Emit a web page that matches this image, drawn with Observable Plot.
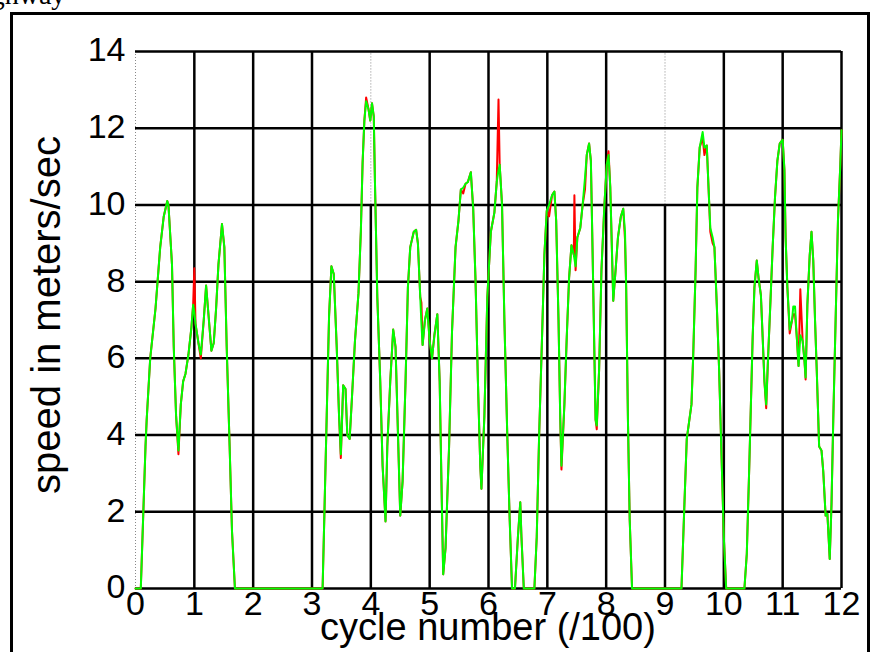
<!DOCTYPE html>
<html><head><meta charset="utf-8">
<script src="https://cdn.jsdelivr.net/npm/d3@7"></script>
<script src="https://cdn.jsdelivr.net/npm/@observablehq/plot@0.6"></script>
<style>body{margin:0;background:#fff;}</style>
</head><body><div id="chart"></div>
<script>
const cycle = [
  0, 0.09, 0.17, 0.19, 0.25, 0.34, 0.42, 0.48, 0.54, 0.56,
  0.62, 0.65, 0.69, 0.73, 0.77, 0.81, 0.85, 0.9, 0.95, 0.98,
  1.0, 1.02, 1.07, 1.11, 1.16, 1.2, 1.24, 1.29, 1.33, 1.37,
  1.41, 1.47, 1.51, 1.55, 1.6, 1.64, 1.69, 3.18, 3.21, 3.25,
  3.29, 3.33, 3.37, 3.42, 3.46, 3.49, 3.53, 3.57, 3.6, 3.64,
  3.68, 3.73, 3.79, 3.83, 3.86, 3.89, 3.92, 3.96, 3.99, 4.02,
  4.05, 4.07, 4.11, 4.16, 4.2, 4.25, 4.28, 4.33, 4.38, 4.42,
  4.46, 4.5, 4.54, 4.59, 4.63, 4.67, 4.73, 4.77, 4.8, 4.84,
  4.86, 4.88, 4.92, 4.96, 5.0, 5.04, 5.08, 5.13, 5.17, 5.2,
  5.23, 5.27, 5.33, 5.38, 5.44, 5.49, 5.53, 5.57, 5.61, 5.65,
  5.7, 5.74, 5.78, 5.82, 5.86, 5.88, 5.93, 5.98, 6.04, 6.1,
  6.14, 6.17, 6.19, 6.23, 6.27, 6.32, 6.36, 6.4, 6.45, 6.5,
  6.54, 6.56, 6.6, 6.78, 6.82, 6.86, 6.91, 6.95, 6.99, 7.03,
  7.08, 7.12, 7.15, 7.19, 7.22, 7.24, 7.29, 7.33, 7.37, 7.41,
  7.45, 7.46, 7.48, 7.51, 7.56, 7.6, 7.64, 7.67, 7.71, 7.74,
  7.77, 7.8, 7.82, 7.84, 7.88, 7.92, 7.97, 8.01, 8.04, 8.07,
  8.1, 8.12, 8.16, 8.2, 8.25, 8.29, 8.32, 8.34, 8.37, 8.4,
  8.44, 9.28, 9.33, 9.37, 9.41, 9.45, 9.48, 9.52, 9.55, 9.59,
  9.64, 9.67, 9.71, 9.74, 9.77, 9.81, 9.84, 9.88, 9.92, 9.96,
  10.0, 10.04, 10.35, 10.39, 10.43, 10.46, 10.49, 10.52, 10.56, 10.59,
  10.63, 10.66, 10.69, 10.72, 10.75, 10.79, 10.83, 10.87, 10.91, 10.95,
  11.0, 11.03, 11.05, 11.08, 11.12, 11.16, 11.18, 11.21, 11.24, 11.27,
  11.3, 11.34, 11.37, 11.39, 11.42, 11.46, 11.49, 11.52, 11.55, 11.58,
  11.62, 11.66, 11.69, 11.73, 11.76, 11.8, 11.83, 11.86, 11.9, 11.94,
  11.98, 12.0
];
const greenSpeed = [
  0, 0, 3.7, 4.4, 6.0, 7.3, 8.9, 9.7, 10.1, 10.0,
  8.45, 6.3, 4.5, 3.6, 4.8, 5.4, 5.6, 6.1, 6.8, 7.4,
  7.2, 6.9, 6.4, 6.1, 7.0, 7.9, 7.15, 6.2, 6.4, 7.3,
  8.45, 9.5, 8.9, 6.3, 3.7, 1.5, 0, 0, 1.9, 4.5,
  7.1, 8.4, 8.2, 6.3, 4.5, 3.5, 5.3, 5.2, 4.0, 3.9,
  5.0, 6.45, 7.7, 9.3, 11.1, 12.2, 12.7, 12.5, 12.2, 12.65,
  12.3, 10.6, 7.6, 5.4, 3.2, 1.75, 3.7, 5.4, 6.75, 6.3,
  4.1, 1.9, 2.8, 5.4, 7.85, 8.9, 9.3, 9.35, 9.0, 7.6,
  6.9, 6.35, 7.0, 7.3, 6.45, 6.0, 6.6, 7.15, 5.4, 2.8,
  0.37, 1.06, 3.7, 6.7, 8.9, 9.6, 10.4, 10.45, 10.55, 10.6,
  10.85, 9.9, 8.0, 5.4, 3.2, 2.6, 4.5, 7.6, 9.3, 9.8,
  10.6, 10.9, 11.05, 10.0, 7.0, 3.95, 1.8, 0, 0, 1.35,
  2.25, 1.35, 0, 0, 1.35, 3.95, 6.55, 8.7, 9.85, 10.0,
  10.25, 10.35, 9.6, 7.0, 4.4, 3.2, 4.8, 6.55, 8.1, 8.95,
  8.7, 8.6, 8.4, 9.15, 9.4, 10.0, 10.7, 11.3, 11.6, 11.15,
  8.7, 6.1, 4.4, 4.25, 5.7, 8.3, 10.0, 11.05, 11.3, 10.45,
  8.7, 7.5, 8.3, 9.15, 9.7, 9.9, 9.3, 7.85, 4.4, 1.8,
  0, 0, 2.2, 3.9, 4.35, 4.8, 6.1, 8.3, 10.45, 11.5,
  11.9, 11.5, 11.55, 10.45, 9.4, 9.15, 8.9, 7.4, 5.7, 3.5,
  1.33, 0, 0, 0.9, 3.05, 4.8, 6.55, 7.85, 8.55, 8.1,
  7.65, 6.55, 5.4, 4.8, 5.95, 7.4, 8.9, 10.2, 11.15, 11.6,
  11.7, 10.9, 9.15, 7.85, 6.75, 7.0, 7.35, 7.35, 6.55, 5.8,
  6.6, 6.45, 5.95, 5.5, 7.4, 8.7, 9.3, 8.55, 7.0, 5.65,
  3.7, 3.6, 3.05, 1.9, 1.95, 0.77, 2.2, 4.4, 7.0, 9.6,
  11.05, 11.95
];
const redSpeed = [
  0, 0, 3.7, 4.4, 6.0, 7.3, 8.9, 9.7, 10.1, 10.0,
  8.45, 6.3, 4.5, 3.5, 4.8, 5.4, 5.6, 6.1, 6.8, 7.4,
  8.35, 6.9, 6.4, 6.0, 7.0, 7.9, 7.15, 6.2, 6.4, 7.3,
  8.45, 9.5, 8.9, 6.3, 3.7, 1.5, 0, 0, 1.9, 4.5,
  7.1, 8.4, 8.2, 6.3, 4.5, 3.4, 5.3, 5.2, 4.0, 3.9,
  5.0, 6.45, 7.7, 9.3, 11.1, 12.2, 12.8, 12.5, 12.2, 12.65,
  12.3, 10.6, 7.6, 5.4, 3.2, 1.75, 3.7, 5.4, 6.75, 6.3,
  4.1, 1.9, 2.8, 5.4, 7.85, 8.9, 9.3, 9.35, 9.0, 7.6,
  7.45, 6.35, 7.0, 7.3, 6.45, 6.0, 6.6, 7.15, 5.4, 2.8,
  0.37, 1.06, 3.7, 6.7, 8.9, 9.6, 10.4, 10.3, 10.55, 10.6,
  10.85, 9.9, 8.0, 5.4, 3.2, 2.6, 4.5, 7.6, 9.3, 9.8,
  10.6, 12.75, 11.05, 10.0, 7.0, 3.95, 1.8, 0, 0, 1.35,
  2.25, 1.35, 0, 0, 1.35, 3.95, 6.55, 8.7, 9.85, 9.7,
  10.25, 10.35, 9.6, 7.0, 4.4, 3.1, 4.8, 6.55, 8.1, 8.95,
  8.7, 10.25, 8.3, 9.15, 9.4, 10.0, 10.4, 11.3, 11.6, 11.15,
  8.7, 6.1, 4.4, 4.15, 5.7, 8.3, 10.0, 11.05, 11.4, 10.45,
  8.7, 7.5, 8.3, 9.15, 9.7, 9.9, 9.1, 7.85, 4.4, 1.8,
  0, 0, 2.2, 3.9, 4.35, 4.8, 6.1, 8.3, 10.45, 11.5,
  11.75, 11.3, 11.55, 10.45, 9.3, 9.0, 8.9, 7.4, 5.7, 3.5,
  1.33, 0, 0, 0.9, 3.05, 4.8, 6.55, 7.85, 8.55, 8.1,
  7.65, 6.55, 5.4, 4.7, 5.95, 7.4, 8.9, 10.2, 11.15, 11.6,
  11.7, 10.9, 9.15, 7.85, 6.65, 7.0, 7.15, 7.15, 6.55, 5.8,
  7.8, 6.45, 5.95, 5.45, 7.4, 8.7, 9.3, 8.55, 7.0, 5.65,
  3.7, 3.6, 3.05, 1.9, 1.95, 0.77, 2.2, 4.4, 7.0, 9.6,
  11.05, 11.95
];
const xTicks = [0, 1, 2, 3, 4, 5, 6, 7, 8, 9, 10, 11, 12];
const yTicks = [0, 2, 4, 6, 8, 10, 12, 14];
const xLabel = "cycle number (/100)";
const yLabel = "speed in meters/sec";
const pageTitle = "Highway";

const rows = cycle.map((c, i) => ({c, red: redSpeed[i], green: greenSpeed[i]}));
const tileBreaks = [4, 9];

const plot = Plot.plot({
  width: 872, height: 652,
  marginLeft: 135, marginRight: 31, marginTop: 51, marginBottom: 64,
  x: {domain: [0, 12], axis: null},
  y: {domain: [0, 14], axis: null},
  style: {fontFamily: "'Liberation Sans', Arial, sans-serif", background: "white", overflow: "hidden", color: "black"},
  marks: [
    Plot.ruleX(xTicks.filter(t => t !== 0 && !tileBreaks.includes(t)), {stroke: "black", strokeWidth: 2.5}),
    Plot.ruleX(tileBreaks, {y1: 0, y2: 10, stroke: "black", strokeWidth: 2.5}),
    Plot.ruleX(tileBreaks, {y1: 10, y2: 14, stroke: "#888", strokeWidth: 1, strokeDasharray: "1,2"}),
    Plot.ruleX([0], {stroke: "#888", strokeWidth: 1, strokeDasharray: "1,2"}),
    Plot.ruleY(yTicks, {stroke: "black", strokeWidth: 2.5}),
    Plot.line(rows, {x: "c", y: "red", stroke: "#ff0000", strokeWidth: 2}),
    Plot.line(rows, {x: "c", y: "green", stroke: "#00ff00", strokeWidth: 2}),
    Plot.text(xTicks, {x: d => d, y: 0, text: d => String(d), lineAnchor: "top", dy: 2, fontSize: 34, fill: "black", ariaLabel: "xtick"}),
    Plot.text(yTicks, {x: 0, y: d => d, text: d => String(d), textAnchor: "end", lineAnchor: "middle", dx: -10, dy: -1, fontSize: 34, fill: "black", ariaLabel: "ytick"})
  ]
});

const svg = d3.select(plot);
svg.selectAll('g[aria-label="xtick"] text, g[aria-label="ytick"] text').each(function () {
  const el = d3.select(this);
  const t = el.attr("transform") || "";
  const x = el.attr("x"), y = el.attr("y");
  el.attr("x", null).attr("y", null);
  el.attr("transform", `${t} translate(${x || 0},${y || 0}) scale(1.25,1)`);
});

svg.append("rect").attr("x", 11.5).attr("y", 13.5).attr("width", 857).attr("height", 700)
  .attr("fill", "none").attr("stroke", "black").attr("stroke-width", 3);
svg.append("text").attr("x", 14).attr("y", 4).attr("font-family", "'Liberation Serif', 'Times New Roman', serif")
  .attr("font-size", 28).attr("fill", "black").text(pageTitle);
svg.append("text").attr("x", 488).attr("y", 640).attr("text-anchor", "middle")
  .attr("font-size", 38).attr("fill", "black").text(xLabel);
svg.append("text").attr("transform", "translate(60,315) rotate(-90)").attr("text-anchor", "middle")
  .attr("font-size", 40).attr("fill", "black").text(yLabel);

document.getElementById("chart").appendChild(plot);
</script>
</body></html>
